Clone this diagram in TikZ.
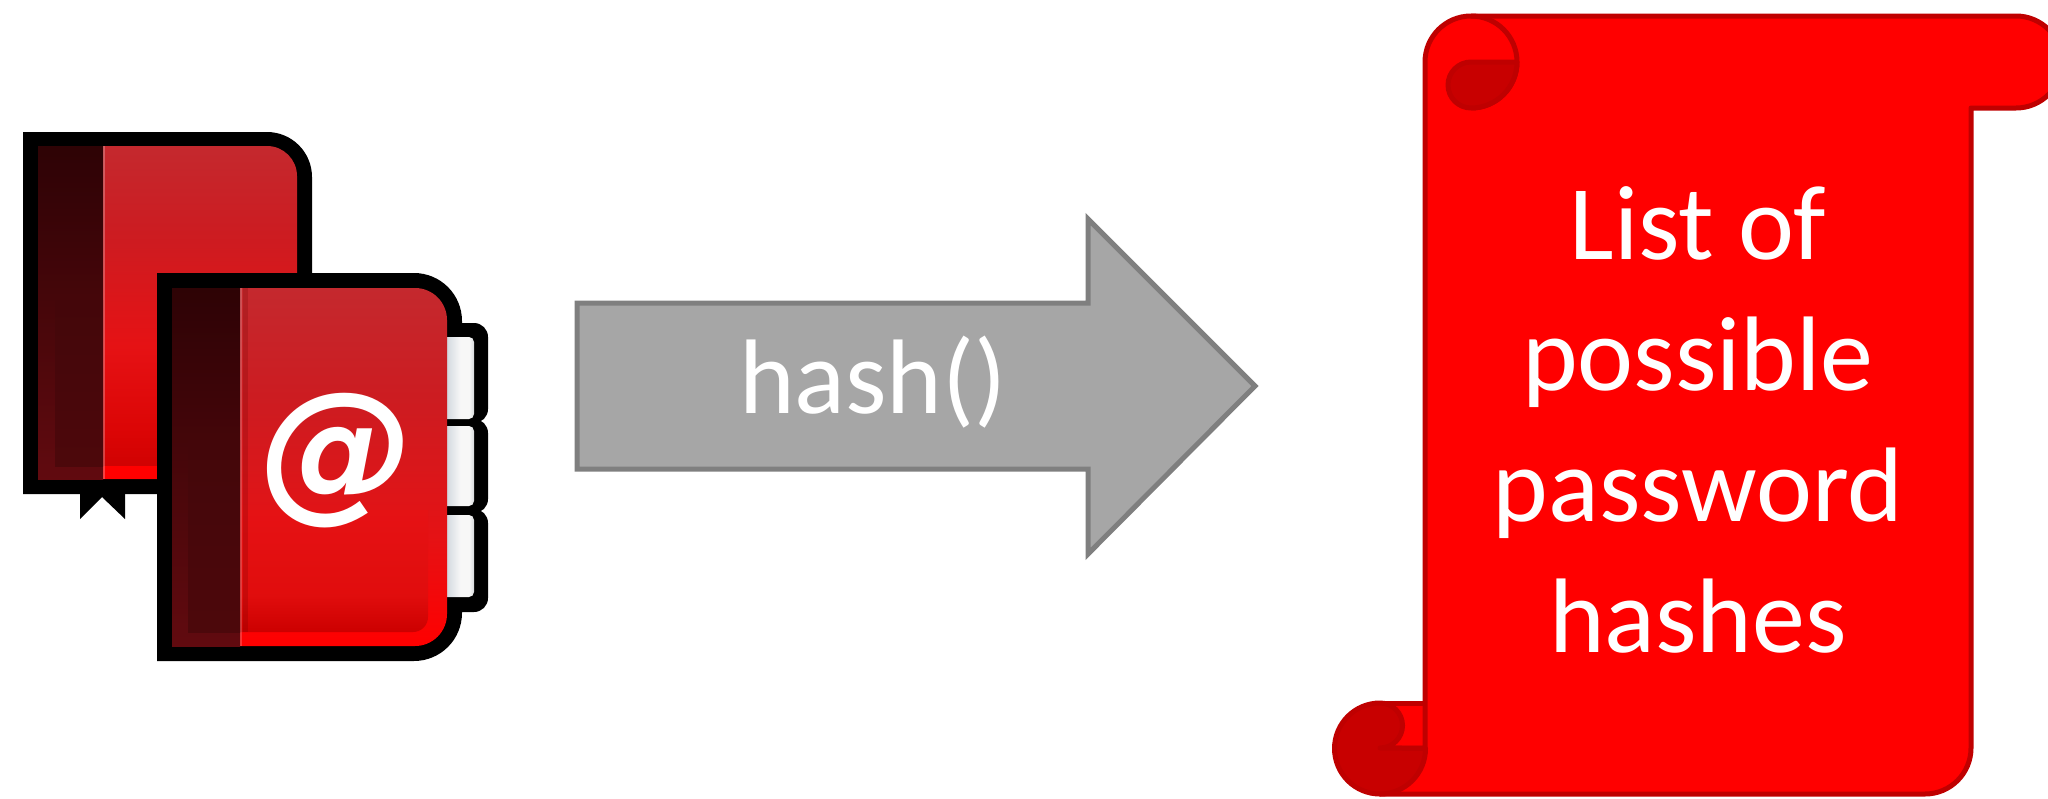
\documentclass[tikz,border=0pt]{standalone}
\usepackage{fontspec}
\setmainfont{Carlito}
\newfontfamily\atfont{DejaVu Sans}
\definecolor{scrollred}{HTML}{FF0000}
\definecolor{scrolledge}{HTML}{BF0000}
\definecolor{scrolldark}{HTML}{C80000}
\definecolor{arrowfill}{HTML}{A6A6A6}
\definecolor{arrowedge}{HTML}{7F7F7F}
\pgfdeclareverticalshading{coverone}{100bp}{
  rgb(0bp)=(0.80,0,0);
  rgb(25bp)=(0.80,0,0);
  rgb(32bp)=(0.86,0.02,0.02);
  rgb(45bp)=(0.90,0.07,0.08);
  rgb(62bp)=(0.80,0.11,0.13);
  rgb(75bp)=(0.77,0.16,0.18);
  rgb(100bp)=(0.77,0.16,0.18)}
\pgfdeclareverticalshading{covertwo}{100bp}{
  rgb(0bp)=(1,0,0);
  rgb(25bp)=(1,0,0);
  rgb(40bp)=(0.90,0.07,0.08);
  rgb(60bp)=(0.80,0.11,0.13);
  rgb(75bp)=(0.77,0.16,0.18);
  rgb(100bp)=(0.77,0.16,0.18)}
\pgfdeclareverticalshading{coverlow}{100bp}{
  rgb(0bp)=(0.80,0,0);
  rgb(25bp)=(0.80,0,0);
  rgb(40bp)=(0.88,0.05,0.05);
  rgb(75bp)=(0.90,0.07,0.08);
  rgb(100bp)=(0.90,0.07,0.08)}
\pgfdeclareverticalshading{spinebase}{100bp}{
  rgb(0bp)=(0.38,0.04,0.06);
  rgb(25bp)=(0.38,0.04,0.06);
  rgb(75bp)=(0.18,0.01,0.02);
  rgb(100bp)=(0.18,0.01,0.02)}
\pgfdeclareverticalshading{spinelow}{100bp}{
  rgb(0bp)=(0.30,0.03,0.045);
  rgb(25bp)=(0.30,0.03,0.045);
  rgb(75bp)=(0.265,0.025,0.04);
  rgb(100bp)=(0.265,0.025,0.04)}
\pgfdeclarehorizontalshading{tabshade}{100bp}{
  rgb(0bp)=(0.68,0.72,0.76);
  rgb(25bp)=(0.68,0.72,0.76);
  rgb(38bp)=(0.85,0.87,0.89);
  rgb(55bp)=(0.97,0.97,0.97);
  rgb(68bp)=(0.97,0.97,0.97);
  rgb(75bp)=(0.84,0.85,0.86);
  rgb(100bp)=(0.84,0.85,0.86)}
\tikzset{
  scrollpart/.style={fill=scrollred,draw=scrolledge,line width=5pt,line join=round},
  scrollshade/.style={fill=scrolldark,draw=scrolledge,line width=5pt,line join=round},
  bigtext/.style={text=white,font=\fontsize{106}{131}\selectfont,align=center,inner sep=0pt},
  tabface/.style={shading=tabshade,rounded corners=5pt},
  tabback/.style={fill=black,rounded corners=14pt}
}
\begin{document}
\begin{tikzpicture}[x=1pt,y=-1pt]
\useasboundingbox (0,0) rectangle (2048,798);
\clip (0,0) rectangle (2048,798);
% back book
\fill[black] (23,132) -- (267,132) arc[start angle=-90,end angle=0,radius=45] -- (312,494) -- (23,494) -- cycle;
\fill[black] (80,490) -- (80,519) -- (102,497) -- (125,519) -- (125,490) -- cycle;
\path[shading=coverone] (103,146) -- (267,146) arc[start angle=-90,end angle=0,radius=30] -- (297,479) -- (103,479) -- cycle;
\fill[red] (103,466) rectangle (297,479);
\path[shading=spinebase] (38,146) rectangle (103,479);
\path[shading=spinelow] (55,300) rectangle (103,466);
\draw[white,opacity=.25,line width=2pt] (104,146) -- (104,479);
% tabs and front book outline
\fill[tabback] (435,323) rectangle (488,423);
\fill[tabback] (435,419) rectangle (488,513);
\fill[tabback] (435,509) rectangle (488,612);
\fill[black] (157,273) -- (414,273) arc[start angle=-90,end angle=0,radius=48] -- (462,613) arc[start angle=0,end angle=90,radius=48] -- (157,661) -- cycle;
\path[tabface] (440,337) rectangle (474,419);
\path[tabface] (440,426) rectangle (474,506);
\path[tabface] (440,515) rectangle (474,597);
% front book
\path[shading=covertwo] (240,288) -- (415,288) arc[start angle=-90,end angle=0,radius=32] -- (447,614) arc[start angle=0,end angle=90,radius=32] -- (240,646) -- cycle;
\path[shading=coverlow] (240,510) -- (428,510) -- (428,617) arc[start angle=0,end angle=90,radius=15] -- (240,632) -- cycle;
\path[shading=spinebase] (172,288) rectangle (240,646);
\path[shading=spinelow] (188,440) rectangle (240,632);
\draw[black!60!red,opacity=.2,line width=5pt] (245,288) -- (245,632);
\draw[white,opacity=.2,line width=2pt] (241,288) -- (241,646);
\node[text=white,inner sep=0pt,font=\fontsize{154}{154}\selectfont\atfont\bfseries\itshape] (atsign) at (337,461) {@};
% arrow
\draw[fill=arrowfill,draw=arrowedge,line width=5pt,line join=miter]
  (577,303) -- (1088,303) -- (1088,219) -- (1255,386) -- (1088,554) -- (1088,469) -- (577,469) -- cycle;
\node[bigtext,anchor=base] (hashlabel) at (873,413) {hash()};
% scroll
\path[scrollpart] (1380,703) -- (1425,703) -- (1425,748) -- (1380,748) -- cycle;
\path[scrollpart] (1425,748) -- (1425,62) arc[start angle=180,end angle=270,radius=46] -- (2016,16) arc[start angle=-90,end angle=90,radius=46] -- (1971,108) -- (1971,748) arc[start angle=0,end angle=90,radius=46] -- (1380,794) -- (1380,748) -- cycle;
\path[scrollshade] (1380,703) arc[start angle=270,end angle=90,radius=45.5] arc[start angle=90,end angle=0,radius=45.5] -- (1380,748) arc[start angle=90,end angle=-90,radius=22.5] -- cycle;
\path[scrollpart,fill=none] (1471,16) arc[start angle=-90,end angle=90,radius=46];
\path[scrollshade] (1471,62) -- (1517,62) arc[start angle=0,end angle=90,radius=46] arc[start angle=90,end angle=270,radius=23] -- cycle;
\node[bigtext,anchor=center] (listlabel) at (1698,420) {List of\\possible\\password\\hashes};
\end{tikzpicture}
\end{document}
